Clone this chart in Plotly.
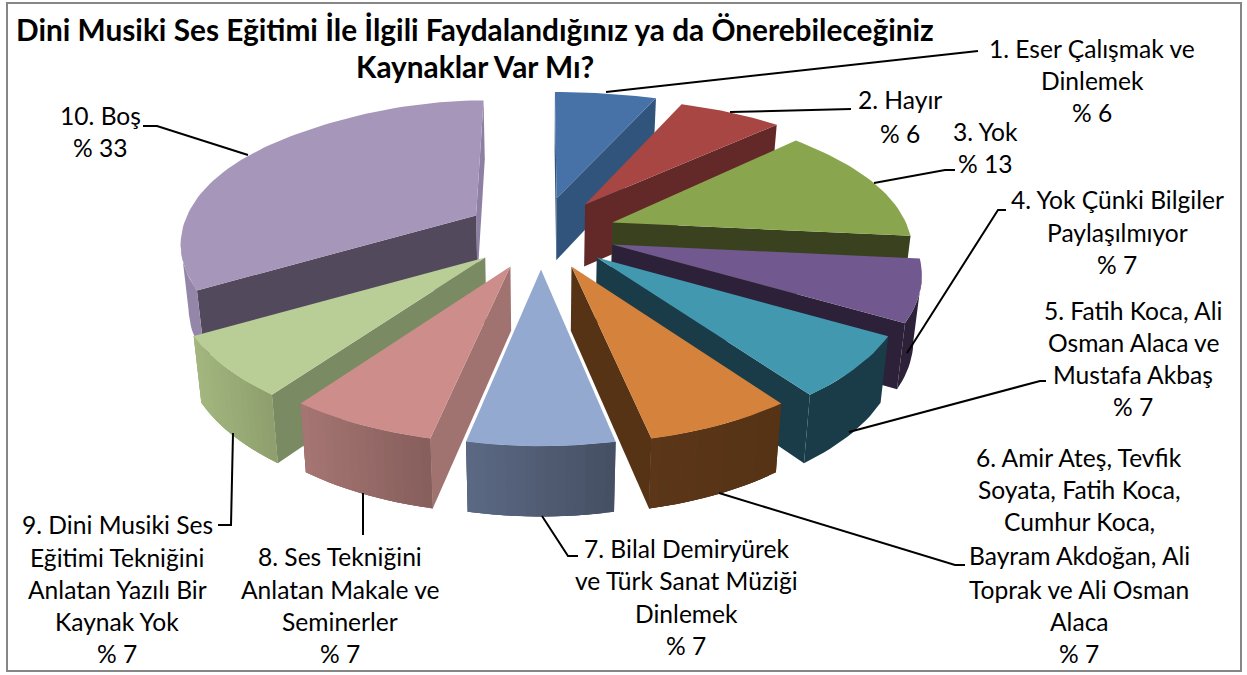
import numpy as np
import plotly.graph_objects as go

# ---------- data ----------
categories = ["1. Eser Çalışmak ve Dinlemek", "2. Hayır", "3. Yok",
              "4. Yok Çünki Bilgiler Paylaşılmıyor",
              "5. Fatih Koca, Ali Osman Alaca ve Mustafa Akbaş",
              "6. Amir Ateş, Tevfik Soyata, Fatih Koca, Cumhur Koca, Bayram Akdoğan, Ali Toprak ve Ali Osman Alaca",
              "7. Bilal Demiryürek ve Türk Sanat Müziği Dinlemek",
              "8. Ses Tekniğini Anlatan Makale ve Seminerler",
              "9. Dini Musiki Ses Eğitimi Tekniğini Anlatan Yazılı Bir Kaynak Yok",
              "10. Boş"]
# slice sizes (1 wedge in 15 = 6.67 %)
values = [6.67, 6.67, 13.33, 6.67, 6.67, 6.67, 6.67, 6.67, 6.67, 33.33]
title_lines = ["Dini Musiki Ses Eğitimi İle İlgili Faydalandığınız ya da Önerebileceğiniz",
               "Kaynaklar Var Mı?"]

# ---------- styles ----------
top_colors = ["#4672a8", "#a84644", "#89a54e", "#71588f", "#4198af",
              "#d4823c", "#93a9cf", "#cd8d8b", "#b9cd96", "#a696ba"]
side_colors = ["#31547c", "#632828", "#39411f", "#2d2139", "#193c48",
               "#573316", "#5d6a85", "#a07270", "#7a8a62", "#524a5c"]
end_wall_colors = ["#31547c", "#632828", "#39411f", "#2d2139", "#193c48",
                   "#573316", "#5d6a85", "#a07270", "#7a8a62", "#8e80a3"]
outer_left = ["#31547c", "#632828", "#39411f", "#2d2139", "#193c48",
              "#5b3618", "#5d6a85", "#a67673", "#a4b77f", "#9386a8"]
outer_right = ["#31547c", "#632828", "#39411f", "#2d2139", "#193c48",
               "#573316", "#465064", "#875f5d", "#8fa06e", "#9386a8"]
rim_scale = [1, 1, 0.97, 1, 1, 1, 1, 1, 1, 0.955]
draw_order = [0, 1, 2, 3, 9, 8, 7, 4, 5, 6]

label_layout = [
    (1092, [48, 80, 112], ["1. Eser Çalışmak ve", "Dinlemek", "% 6"]),
    (900, [99, 133], ["2. Hayır", "% 6"]),
    (985, [131, 163], ["3. Yok", "% 13"]),
    (1117, [199, 232, 264], ["4. Yok Çünki Bilgiler", "Paylaşılmıyor", "% 7"]),
    (1133, [310, 342, 374, 406], ["5. Fatih Koca, Ali", "Osman Alaca ve", "Mustafa Akbaş", "% 7"]),
    (1079, [457, 489, 521, 555, 589, 621, 653],
     ["6. Amir Ateş, Tevfik", "Soyata, Fatih Koca,", "Cumhur Koca,", "Bayram Akdoğan, Ali",
      "Toprak ve Ali Osman", "Alaca", "% 7"]),
    (686, [548, 580, 613, 645], ["7. Bilal Demiryürek", "ve Türk Sanat Müziği", "Dinlemek", "% 7"]),
    (340, [556, 589, 621, 653], ["8. Ses Tekniğini", "Anlatan Makale ve", "Seminerler", "% 7"]),
    (117, [524, 557, 589, 621, 653],
     ["9. Dini Musiki Ses", "Eğitimi Tekniğini", "Anlatan Yazılı Bir", "Kaynak Yok", "% 7"]),
    (100, [115, 147], ["10. Boş", "% 33"]),
]
leaders = [
    [(606, 92), (978, 51)],
    [(730, 112), (851, 109)],
    [(874, 183), (945, 170), (955, 170)],
    [(907, 353), (998, 210), (1006, 210)],
    [(849, 432), (1040, 381), (1046, 381)],
    [(719, 493), (955, 565), (965, 565)],
    [(542, 516), (568, 556), (578, 556)],
    [(363, 493), (363, 535)],
    [(233, 433), (231, 525), (218, 525)],
    [(248, 155), (157, 126), (143, 126)],
]
FONT = "Lato"
LABEL_SIZE = 24.6
TITLE_SIZE = 29.8


def hex2rgb(h):
    return np.array([int(h[i:i + 2], 16) for i in (1, 3, 5)], float)


def mix(a, b, t):
    c = hex2rgb(a) * (1 - t) + hex2rgb(b) * t
    return "rgb(%d,%d,%d)" % tuple(c.round())


# projection of the exploded, tilted pie
def apex_of(mid):
    return np.array([541 + 75 * np.sin(mid), 233.5 - 36 * np.cos(mid)])


def rim(apex, th, k):
    c = np.cos(th)
    dy = -1.3 - 141.5 * c + 36.6 * c * c
    if c > 0:
        dy *= 1 + 0.008 * max(0, apex[1] - 205) * c ** 4
    else:
        dy *= k
    dx = np.sin(th) * (302 - 59 * c) * k + 0.001 * (apex[0] - 541) * dy
    return apex + np.array([dx, dy])


def drop(p):
    return np.array([p[0] - 0.022 * (p[0] - 541), p[1] + 62 + (p[1] - 198) * 8 / 242])


def cross(a, b, c):
    return (b[0] - a[0]) * (c[1] - b[1]) - (b[1] - a[1]) * (c[0] - b[0])


fig = go.Figure()


def poly(pts, color):
    pts = np.array(list(pts) + [pts[0]])
    fig.add_trace(go.Scatter(x=pts[:, 0], y=pts[:, 1], mode="lines", fill="toself",
                             fillcolor=color, line=dict(color=color, width=0),
                             hoverinfo="skip", showlegend=False))


edges = np.concatenate([[0], np.cumsum(values)]) / np.sum(values) * 2 * np.pi
for i in draw_order:
    t1, t2 = edges[i], edges[i + 1]
    mid = (t1 + t2) / 2
    a = apex_of(mid)
    ths = np.linspace(t1, t2, max(8, int((t2 - t1) / np.radians(1.5))))
    arc = [rim(a, t, rim_scale[i]) for t in ths]
    # straight side walls
    if cross(a, arc[-1], drop(arc[-1])) > 0:
        poly([a, arc[-1], drop(arc[-1]), drop(a)], end_wall_colors[i])
    if cross(arc[0], a, drop(a)) > 0:
        poly([arc[0], a, drop(a), drop(arc[0])], side_colors[i])
    # curved outer wall: one base shape, then overlapping strips for the left-right shading
    vis = [j for j in range(len(arc) - 1) if arc[j + 1][0] < arc[j][0]]
    if vis:
        part = arc[vis[0]:vis[-1] + 2]
        poly(part + [drop(p) for p in part[::-1]], mix(outer_left[i], outer_right[i], 0.5))
        if outer_left[i] != outer_right[i]:
            xmin, xmax = min(p[0] for p in part), max(p[0] for p in part)
            for j in range(len(part) - 1):
                p, q = part[j], part[min(j + 2, len(part) - 1)]
                t = (p[0] - xmin) / max(xmax - xmin, 1)
                poly([p, q, drop(q), drop(p)], mix(outer_left[i], outer_right[i], t))
    # top face
    poly([a] + arc, top_colors[i])

# leader lines
for pts in leaders:
    fig.add_trace(go.Scatter(x=[p[0] for p in pts], y=[p[1] for p in pts], mode="lines",
                             line=dict(color="#000000", width=2),
                             hoverinfo="skip", showlegend=False))

anns = []
for cx, ys, lines in label_layout:
    for y, t in zip(ys, lines):
        anns.append(dict(x=cx, y=y, text=t, showarrow=False, xanchor="center", yanchor="middle",
                         font=dict(family=FONT, size=LABEL_SIZE, color="#000000")))
for (cx, y), t in zip([(475, 29), (475, 66)], title_lines):
    anns.append(dict(x=cx, y=y, text="<b>%s</b>" % t, showarrow=False, xanchor="center",
                     yanchor="middle", font=dict(family=FONT, size=TITLE_SIZE, color="#000000")))

fig.update_layout(
    width=1247, height=675, margin=dict(l=0, r=0, t=0, b=0),
    paper_bgcolor="white", plot_bgcolor="white", showlegend=False,
    xaxis=dict(range=[0, 1247], visible=False, fixedrange=True),
    yaxis=dict(range=[675, 0], visible=False, fixedrange=True),
    annotations=anns,
    shapes=[dict(type="rect", x0=7, y0=3, x1=1241, y1=671,
                 line=dict(color="#868686", width=2), fillcolor="rgba(0,0,0,0)", layer="below")],
)
fig.write_html("out.html", config=dict(displayModeBar=False),
               post_script="document.body.style.margin='0';document.body.style.overflow='hidden';")
